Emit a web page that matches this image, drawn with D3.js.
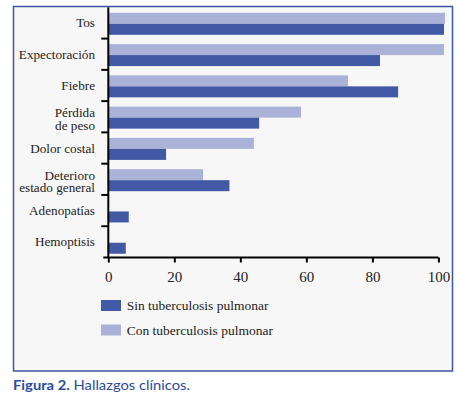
<!DOCTYPE html>
<html>
<head>
<meta charset="utf-8">
<script src="https://d3js.org/d3.v7.min.js"></script>
<style>
  body { margin: 0; background: #ffffff; }
</style>
</head>
<body>
<div id="chart-area"></div>
<script>
// datos (porcentaje de pacientes)
var categorias = ["Tos", "Expectoración", "Fiebre", "Pérdida de peso", "Dolor costal",
    "Deterioro estado general", "Adenopatías", "Hemoptisis"];
var lineas = [["Tos"], ["Expectoración"], ["Fiebre"], ["Pérdida", "de peso"], ["Dolor costal"],
    ["Deterioro", "estado general"], ["Adenopatías"], ["Hemoptisis"]];
var sinTB = [101.7, 82.3, 87.8, 45.7, 17.5, 36.7, 6.2, 5.3];
var conTB = [102.0, 101.7, 72.6, 58.4, 44.1, 28.7, 0, 0];
var series = ["Con tuberculosis pulmonar", "Sin tuberculosis pulmonar"];
var leyenda = ["Sin tuberculosis pulmonar", "Con tuberculosis pulmonar"];
var ticks = [0, 20, 40, 60, 80, 100];

var colores = d3.scaleOrdinal()
    .domain(series)
    .range(["#aab3d7", "#4259a5"]);

var svg = d3.select("#chart-area").append("svg")
    .attr("width", 460)
    .attr("height", 405);

// marco del grafico
svg.append("rect")
    .attr("x", 13.5)
    .attr("y", 6.5)
    .attr("width", 439)
    .attr("height", 364.5)
    .attr("fill", "#f7f7f7")
    .attr("stroke", "#3a56a5")
    .attr("stroke-width", 1.5);

var x = d3.scaleLinear()
    .domain([0, 100])
    .range([108.3, 438.4]);

var y = d3.scaleBand()
    .domain(categorias)
    .range([7.3, 257.5]);

var y1 = d3.scaleBand()
    .domain(series)
    .range([5.5, 27.5]);

var filas = categorias.map((c, i) => ({
    cat: c,
    lineas: lineas[i],
    valores: [{ s: series[0], v: conTB[i] }, { s: series[1], v: sinTB[i] }]
}));

var grupos = svg.selectAll("g.fila")
    .data(filas)
    .enter()
    .append("g")
    .attr("class", "fila")
    .attr("transform", (d) => "translate(0," + y(d.cat) + ")");

grupos.selectAll("rect")
    .data((d) => d.valores.filter((e) => e.v > 0))
    .enter()
    .append("rect")
    .attr("x", x(0))
    .attr("y", (d) => y1(d.s))
    .attr("width", (d) => x(d.v) - x(0))
    .attr("height", y1.bandwidth())
    .attr("fill", (d) => colores(d.s));

// etiquetas de categoria
grupos.append("text")
    .attr("text-anchor", "end")
    .attr("font-family", "'Liberation Serif', serif")
    .attr("font-size", 13.2)
    .attr("fill", "#222")
    .selectAll("tspan")
    .data((d) => d.lineas.map((t, k) => ({ t: t, k: k, n: d.lineas.length })))
    .enter()
    .append("tspan")
    .attr("x", 95)
    .attr("y", (d) => d.n == 1 ? y.bandwidth() / 2 + 4.5 : y.bandwidth() / 2 + 0.6 + d.k * 12.4)
    .text((d) => d.t);

// eje y con marcas entre categorias
svg.append("line")
    .attr("x1", x(0)).attr("x2", x(0))
    .attr("y1", y.range()[0]).attr("y2", y.range()[1])
    .attr("stroke", "#000")
    .attr("stroke-width", 2);

svg.selectAll("line.ytick")
    .data(categorias.slice(1))
    .enter()
    .append("line")
    .attr("class", "ytick")
    .attr("x1", x(0) - 7).attr("x2", x(0))
    .attr("y1", (d) => y(d)).attr("y2", (d) => y(d))
    .attr("stroke", "#000")
    .attr("stroke-width", 2);

// eje x
var ejeX = svg.append("g")
    .attr("transform", "translate(0," + y.range()[1] + ")")
    .call(d3.axisBottom(x).tickValues(ticks).tickSize(5).tickSizeOuter(0).tickPadding(9));

ejeX.select(".domain")
    .attr("d", "M" + (x(0) - 5) + ",0H" + x(100))
    .attr("stroke-width", 2);
ejeX.selectAll(".tick line").attr("stroke-width", 2);
ejeX.selectAll(".tick text")
    .attr("font-family", "'Liberation Serif', serif")
    .attr("font-size", 15)
    .attr("fill", "#222");

// leyenda
var ley = svg.selectAll("g.ley")
    .data(leyenda)
    .enter()
    .append("g")
    .attr("class", "ley")
    .attr("transform", (d, i) => "translate(101," + (300 + i * 24.5) + ")");

ley.append("rect")
    .attr("width", 20)
    .attr("height", 11)
    .attr("fill", (d) => colores(d));

ley.append("text")
    .attr("x", 25.7)
    .attr("y", (d, i) => 10 + i * 0.8)
    .attr("font-family", "'Liberation Serif', serif")
    .attr("font-size", 13.5)
    .attr("fill", "#222")
    .text((d) => d);

// pie de figura
var pie = svg.append("text")
    .attr("x", 13)
    .attr("y", 389.5)
    .attr("font-family", "Lato, 'Open Sans', sans-serif")
    .attr("font-size", 14)
    .attr("fill", "#2a4c9c")
    .attr("textLength", 177)
    .attr("lengthAdjust", "spacingAndGlyphs");
pie.append("tspan").attr("font-weight", "bold").text("Figura 2.");
pie.append("tspan").text(" Hallazgos clínicos.");
</script>
</body>
</html>
